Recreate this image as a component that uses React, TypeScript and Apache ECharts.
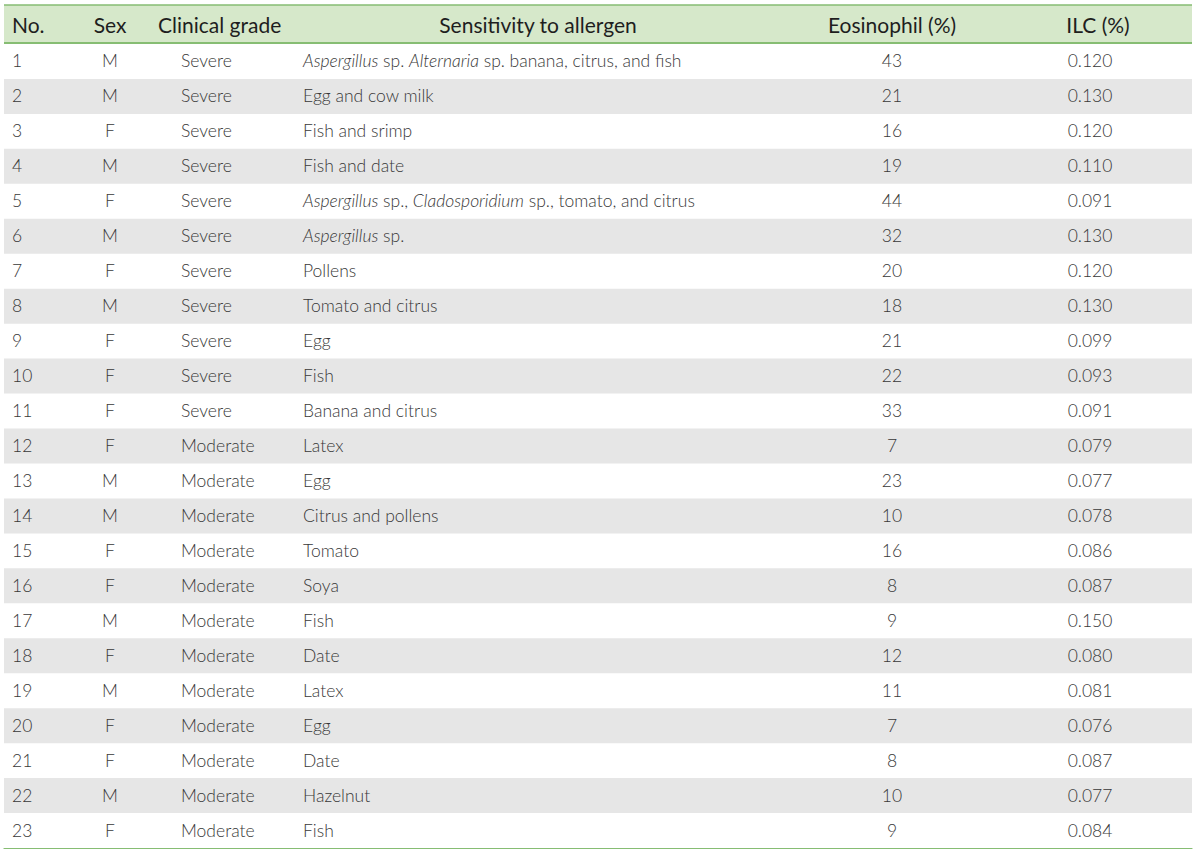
import React, { useEffect, useRef } from "react";
import * as echarts from "echarts";

// ---------------- data ----------------
const headers = ["No.", "Sex", "Clinical grade", "Sensitivity to allergen", "Eosinophil (%)", "ILC (%)"];
const patientNo = [1, 2, 3, 4, 5, 6, 7, 8, 9, 10, 11, 12, 13, 14, 15, 16, 17, 18, 19, 20, 21, 22, 23];
const sex = ["M", "M", "F", "M", "F", "M", "F", "M", "F", "F", "F", "F", "M", "M", "F", "F", "M", "F", "M", "F", "F", "M", "F"];
const clinicalGrade = [
  "Severe", "Severe", "Severe", "Severe", "Severe", "Severe", "Severe", "Severe", "Severe", "Severe", "Severe",
  "Moderate", "Moderate", "Moderate", "Moderate", "Moderate", "Moderate", "Moderate", "Moderate", "Moderate", "Moderate", "Moderate", "Moderate",
];
// {i|...} marks italic (genus names)
const allergen = [
  "{i|Aspergillus} sp. {i|Alternaria} sp. banana, citrus, and fish",
  "Egg and cow milk",
  "Fish and srimp",
  "Fish and date",
  "{i|Aspergillus} sp., {i|Cladosporidium} sp., tomato, and citrus",
  "{i|Aspergillus} sp.",
  "Pollens",
  "Tomato and citrus",
  "Egg",
  "Fish",
  "Banana and citrus",
  "Latex",
  "Egg",
  "Citrus and pollens",
  "Tomato",
  "Soya",
  "Fish",
  "Date",
  "Latex",
  "Egg",
  "Date",
  "Hazelnut",
  "Fish",
];
const eosinophil = [43, 21, 16, 19, 44, 32, 20, 18, 21, 22, 33, 7, 23, 10, 16, 8, 9, 12, 11, 7, 8, 10, 9];
const ilc = [0.12, 0.13, 0.12, 0.11, 0.091, 0.13, 0.12, 0.13, 0.099, 0.093, 0.091, 0.079, 0.077, 0.078, 0.086, 0.087, 0.15, 0.08, 0.081, 0.076, 0.087, 0.077, 0.084];

// ---------------- style / layout ----------------
const FONT = "Lato, 'Open Sans', sans-serif";
const BODY_SIZE = 17.5;
const BODY_WEIGHT = 300;
const HEAD_SIZE = 21;
const GREEN_LINE = "#86bd73";
const HEADER_BG = "#d6e8ca";
const STRIPE = "#e6e6e6";
const BODY_COLOR = "#383838";
const HEAD_COLOR = "#1e1e1e";

const TABLE_LEFT = 4;
const TABLE_RIGHT = 1192;
const HEAD_TOP = 5;
const HEAD_BOTTOM = 43;
const TABLE_BOTTOM = 848;

// column anchors (page x) : [headerX, headerAlign, cellX, cellAlign]
const COLS: [number, string, number, string][] = [
  [12, "left", 12, "left"],
  [110, "center", 110, "center"],
  [158, "left", 181, "left"],
  [538, "center", 303, "left"],
  [892, "center", 892, "center"],
  [1098, "center", 1090, "center"],
];

function cellText(col: number, i: number): string {
  switch (col) {
    case 0: return String(patientNo[i]);
    case 1: return sex[i];
    case 2: return clinicalGrade[i];
    case 3: return allergen[i];
    case 4: return String(eosinophil[i]);
    default: return ilc[i].toFixed(3);
  }
}

export default function App() {
  const ref = useRef<HTMLDivElement>(null);
  useEffect(() => {
    if (!ref.current) return;
    const chart = echarts.init(ref.current, undefined, { renderer: "svg" });
    const headerY = (HEAD_TOP + HEAD_BOTTOM) / 2;
    const graphic: any[] = [
      { type: "rect", silent: true, z: 0, shape: { x: TABLE_LEFT, y: HEAD_TOP, width: TABLE_RIGHT - TABLE_LEFT, height: HEAD_BOTTOM - HEAD_TOP }, style: { fill: HEADER_BG } },
      { type: "line", silent: true, z: 1, shape: { x1: TABLE_LEFT, y1: HEAD_TOP, x2: TABLE_RIGHT, y2: HEAD_TOP }, style: { stroke: GREEN_LINE, lineWidth: 1.5 } },
      { type: "line", silent: true, z: 1, shape: { x1: TABLE_LEFT, y1: HEAD_BOTTOM, x2: TABLE_RIGHT, y2: HEAD_BOTTOM }, style: { stroke: GREEN_LINE, lineWidth: 2 } },
      ...headers.map((h, c) => ({
        type: "text",
        silent: true,
        z: 2,
        x: COLS[c][0],
        y: headerY,
        style: {
          text: h,
          fill: HEAD_COLOR,
          fontSize: HEAD_SIZE,
          fontFamily: FONT,
          align: COLS[c][1],
          verticalAlign: "middle",
          textAlign: COLS[c][1],
          textVerticalAlign: "middle",
        },
      })),
    ];

    chart.setOption({
      animation: false,
      backgroundColor: "#ffffff",
      grid: { left: TABLE_LEFT, right: 1200 - TABLE_RIGHT, top: HEAD_BOTTOM + 1, bottom: 857 - TABLE_BOTTOM, containLabel: false },
      xAxis: {
        type: "value",
        min: 0,
        max: 1,
        axisLine: { show: true, onZero: false, lineStyle: { color: GREEN_LINE, width: 1.2 } },
        axisTick: { show: false },
        axisLabel: { show: false },
        splitLine: { show: false },
      },
      yAxis: {
        type: "category",
        inverse: true,
        data: patientNo.map(String),
        show: false,
      },
      graphic,
      series: [
        {
          type: "custom",
          silent: true,
          data: patientNo.map((_, i) => [0, i]),
          encode: { x: 0, y: 1 },
          renderItem: (params: any, api: any) => {
            const i = api.value(1) as number;
            const pt = api.coord([0, i]);
            const rowH = api.size([0, 1])[1];
            const cs = params.coordSys;
            const cy = pt[1] - 0.5;
            const children: any[] = [];
            if (i % 2 === 1) {
              children.push({
                type: "rect",
                shape: { x: cs.x, y: pt[1] - rowH / 2, width: cs.width, height: rowH },
                style: { fill: STRIPE },
              });
            }
            COLS.forEach((col, c) => {
              children.push({
                type: "text",
                x: col[2],
                y: cy,
                style: {
                  text: cellText(c, i),
                  fill: BODY_COLOR,
                  fontSize: BODY_SIZE,
                  fontWeight: BODY_WEIGHT,
                  fontFamily: FONT,
                  align: col[3],
                  verticalAlign: "middle",
                  rich: {
                    i: { fontStyle: "italic", fontSize: BODY_SIZE, fontWeight: BODY_WEIGHT, fontFamily: FONT, fill: BODY_COLOR },
                  },
                },
              });
            });
            return { type: "group", children };
          },
        },
      ],
    });
    return () => chart.dispose();
  }, []);
  return (
    <div
      ref={ref}
      style={{ position: "fixed", left: 0, top: 0, width: 1200, height: 857, background: "#fff" }}
    />
  );
}
